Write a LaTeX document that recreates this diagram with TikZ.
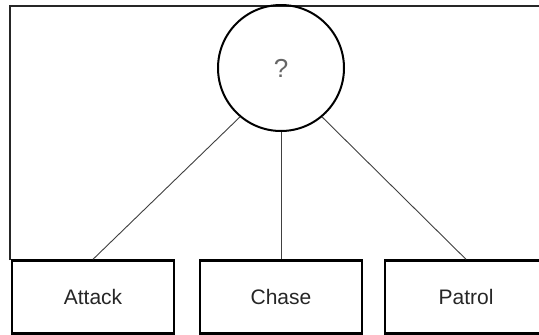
\documentclass[tikz,border=0pt]{standalone}
\usepackage{fontspec}
\setmainfont{Liberation Sans}
\begin{document}
\begin{tikzpicture}[x=1pt,y=-1pt,
  statebox/.style={draw=black,line width=2.4pt,minimum width=162pt,minimum height=73pt,inner sep=0pt,font=\fontsize{21}{24}\selectfont,text=black!85},
  decision/.style={draw=black,line width=2pt,circle,minimum size=126pt,inner sep=0pt,font=\fontsize{26}{28}\selectfont,text=black!60},
  link/.style={draw=black!75,line width=0.9pt}]
\useasboundingbox (0,0) rectangle (539,335);
\clip (0,0) rectangle (539,335);
\fill[white] (0,0) rectangle (539,335);
\draw[line width=1.4pt,black!85] (10,260) -- (10,6) -- (545,6);
\node[decision] (q) at (281,68) {?};
\node[statebox] (attack) at (93,297) {Attack};
\node[statebox] (chase) at (281,297) {Chase};
\node[statebox] (patrol) at (466,297) {Patrol};
\draw[link] (q.230) -- (attack.north);
\draw[link] (q.south) -- (chase.north);
\draw[link] (q.310) -- (patrol.north);
\end{tikzpicture}
\end{document}
